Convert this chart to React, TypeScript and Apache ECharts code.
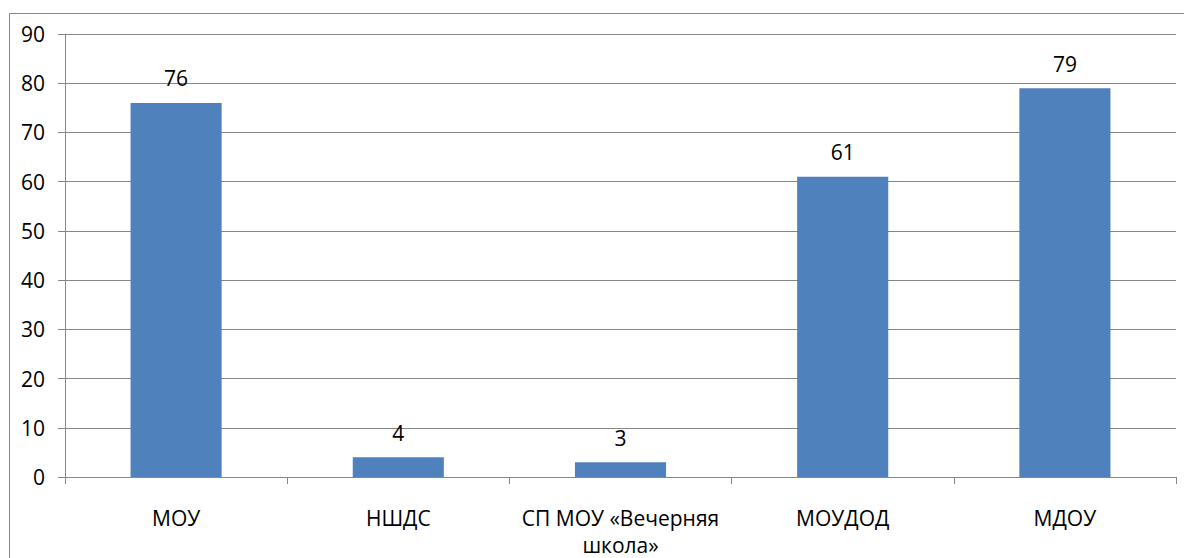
import React, { useEffect, useRef } from "react";
import * as echarts from "echarts";

const categories = ["МОУ", "НШДС", "СП МОУ «Вечерняя\nшкола»", "МОУДОД", "МДОУ"];
const values = [76, 4, 3, 61, 79];
const yMin = 0;
const yMax = 90;
const yStep = 10;

const FONT = "'Open Sans', 'Noto Sans', sans-serif";
const GRAY = "#868686";
const FS = 21;

export default function App() {
  const ref = useRef<HTMLDivElement>(null);
  useEffect(() => {
    document.body.style.margin = "0";
    const chart = echarts.init(ref.current!, null, { renderer: "svg" });
    chart.setOption({
      animation: false,
      backgroundColor: "#ffffff",
      grid: { left: 65, right: 8, top: 34, bottom: 77, containLabel: false },
      graphic: [
        {
          type: "rect",
          shape: { x: 9.5, y: 13.5, width: 1200, height: 600 },
          style: { fill: "none", stroke: GRAY, lineWidth: 1 },
          silent: true,
        },
      ],
      xAxis: {
        type: "category",
        data: categories,
        axisLine: { show: true, lineStyle: { color: GRAY, width: 1 } },
        axisTick: { show: true, length: 7, alignWithLabel: false, lineStyle: { color: GRAY } },
        axisLabel: {
          color: "#000",
          fontSize: FS,
          fontFamily: FONT,
          margin: 27,
          lineHeight: 27,
          interval: 0,
        },
        splitLine: { show: false },
      },
      yAxis: {
        type: "value",
        min: yMin,
        max: yMax,
        interval: yStep,
        axisLine: { show: true, lineStyle: { color: GRAY, width: 1 } },
        axisTick: { show: true, length: 7, lineStyle: { color: GRAY } },
        axisLabel: { color: "#000", fontSize: FS, fontFamily: FONT, margin: 20 },
        splitLine: { show: true, lineStyle: { color: GRAY, width: 1 } },
      },
      series: [
        {
          type: "bar",
          data: values,
          barWidth: "41%",
          itemStyle: { color: "#4F81BD" },
          label: {
            show: true,
            position: "top",
            distance: 14,
            color: "#000",
            fontSize: FS,
            fontFamily: FONT,
          },
        },
      ],
    });
    return () => chart.dispose();
  }, []);
  return <div ref={ref} style={{ width: 1184, height: 558 }} />;
}
